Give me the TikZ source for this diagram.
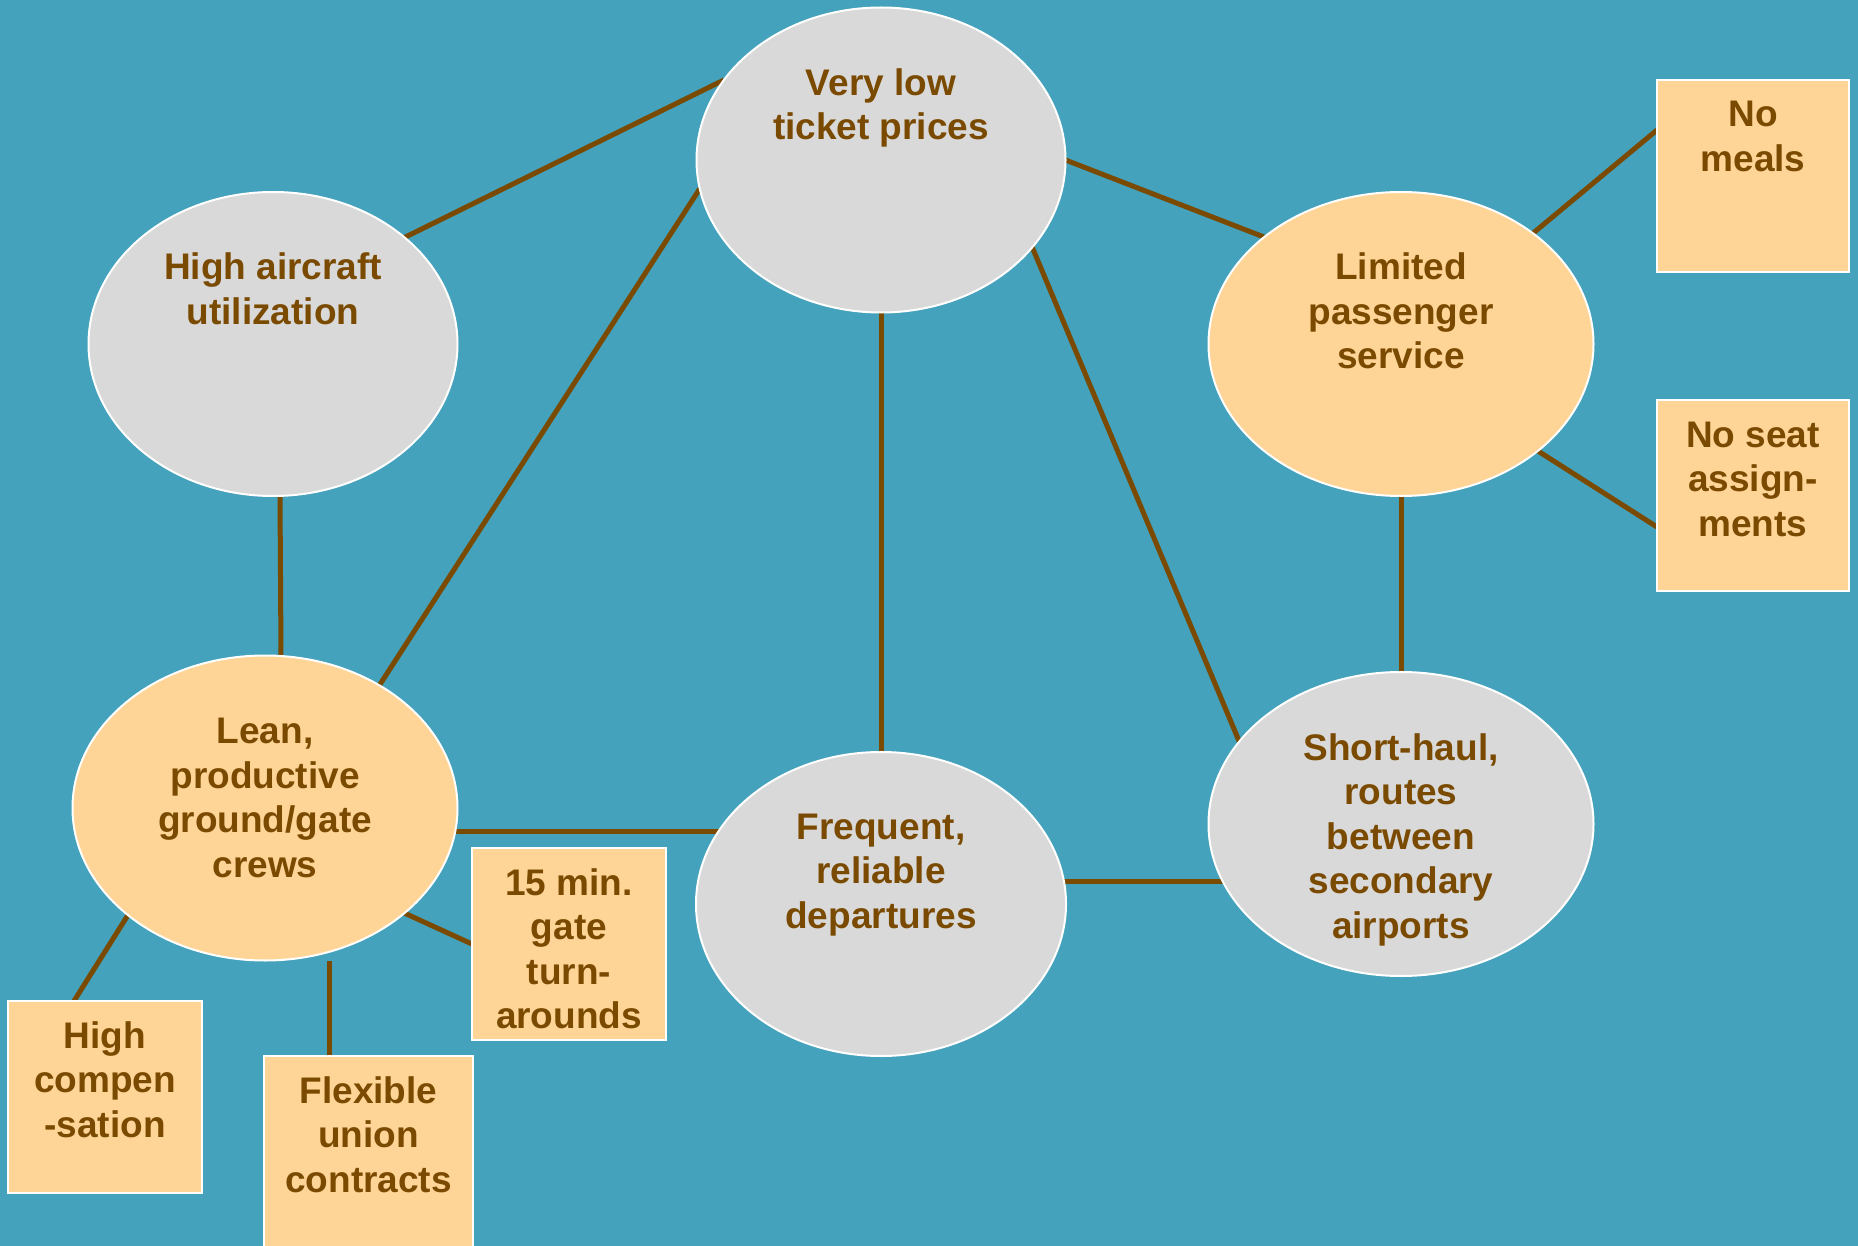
\documentclass[tikz,border=0pt]{standalone}
\usepackage{fontspec}
\setmainfont{Liberation Sans}
\usetikzlibrary{shapes.geometric}
\definecolor{bgc}{HTML}{44A2BC}
\definecolor{grayc}{HTML}{D9D9D9}
\definecolor{peach}{HTML}{FFD597}
\definecolor{brownc}{HTML}{7A4A00}
\pgfdeclarelayer{bg}
\pgfsetlayers{bg,main}
\tikzset{
  oval/.style={ellipse, draw=white, line width=2pt, inner sep=0pt, outer sep=0pt},
  grayoval/.style={oval, fill=grayc},
  peachoval/.style={oval, fill=peach},
  box/.style={rectangle, draw=white, line width=2pt, fill=peach, inner sep=0pt, outer sep=0pt},
  txt/.style={inner sep=0pt, outer sep=0pt, anchor=base, text=brownc,
    font=\fontsize{37}{44.5}\selectfont\bfseries},
  link/.style={draw=brownc, line width=5pt},
}
\newcommand{\ctext}[1]{\parbox[t]{420pt}{\centering #1}}
\begin{document}
\begin{tikzpicture}[x=1pt,y=-1pt]
\useasboundingbox (0,0) rectangle (1858,1246);
% ellipses
\node[grayoval, minimum width=369pt, minimum height=305pt] (vlt) at (881,160) {};
\node[grayoval, minimum width=369pt, minimum height=304pt] (hac) at (273,344) {};
\node[peachoval, minimum width=385pt, minimum height=304pt] (lps) at (1401,344) {};
\node[peachoval, minimum width=385pt, minimum height=305pt] (lean) at (265,808) {};
\node[grayoval, minimum width=370pt, minimum height=304pt] (fr) at (881,904) {};
\node[grayoval, minimum width=385pt, minimum height=304pt] (shr) at (1401,824) {};
% boxes
\node[box, minimum width=192pt, minimum height=192pt] (nm) at (1753,176) {};
\node[box, minimum width=192pt, minimum height=191pt] (nsa) at (1753,495.5) {};
\node[box, minimum width=194pt, minimum height=192pt] (hcs) at (105,1097) {};
\node[box, minimum width=194pt, minimum height=192pt] (tmg) at (569,944) {};
\node[box, minimum width=209pt, minimum height=196pt] (fuc) at (368.5,1154) {};
% texts
\node[txt] (vlt-t) at ([yshift=-88pt]vlt.north) {\ctext{Very low\\ticket prices}};
\node[txt] (hac-t) at ([yshift=-88pt]hac.north) {\ctext{High aircraft\\utilization}};
\node[txt] (lps-t) at ([yshift=-88pt]lps.north) {\ctext{Limited\\passenger\\service}};
\node[txt] (lean-t) at ([yshift=-88pt]lean.north) {\ctext{Lean,\\productive\\ground/gate\\crews}};
\node[txt] (fr-t) at ([yshift=-87pt]fr.north) {\ctext{Frequent,\\reliable\\departures}};
\node[txt] (shr-t) at ([yshift=-88pt]shr.north) {\ctext{Short-haul,\\routes\\between\\secondary\\airports}};
\node[txt] (nm-t) at ([yshift=-47pt]nm.north) {\ctext{No\\meals}};
\node[txt] (nsa-t) at ([yshift=-47pt]nsa.north) {\ctext{No seat\\assign-\\ments}};
\node[txt] (hcs-t) at ([yshift=-47pt]hcs.north) {\ctext{High\\compen\\-sation}};
\node[txt] (tmg-t) at ([yshift=-47pt]tmg.north) {\ctext{15 min.\\gate\\turn-\\arounds}};
\node[txt] (fuc-t) at ([yshift=-47pt]fuc.north) {\ctext{Flexible\\union\\contracts}};
% background and connectors
\begin{pgfonlayer}{bg}
\fill[bgc] (0,0) rectangle (1858,1246);
\draw[link] (hac.39.5) -- (vlt.153.3);
\draw[link] (lean.47) -- (vlt.189.8);
\draw[link] (vlt.south) -- (fr.north);
\draw[link] (vlt.east) -- (lps.142);
\draw[link] (vlt.-30) -- (shr.153);
\draw[link] ([xshift=7pt]hac.south) -- ([xshift=16pt]lean.north);
\draw[link] (lps.40.3) -- ([yshift=46pt]nm.west);
\draw[link] (lps.-38.7) -- ([yshift=-31.5pt]nsa.west);
\draw[link] (lps.south) -- (shr.north);
\draw[link] (lean.-7.1) -- (lean.-7.1 -| fr.center);
\draw[link] (fr.7.4) -- (fr.7.4 -| shr.center);
\draw[link] (lean.218.5) -- ([xshift=-31pt]hcs.north);
\draw[link] ([xshift=64pt]lean.south) -- ([xshift=-39.5pt]fuc.north);
\draw[link] (lean.-37.8) -- (tmg.west);
\end{pgfonlayer}
\end{tikzpicture}
\end{document}
